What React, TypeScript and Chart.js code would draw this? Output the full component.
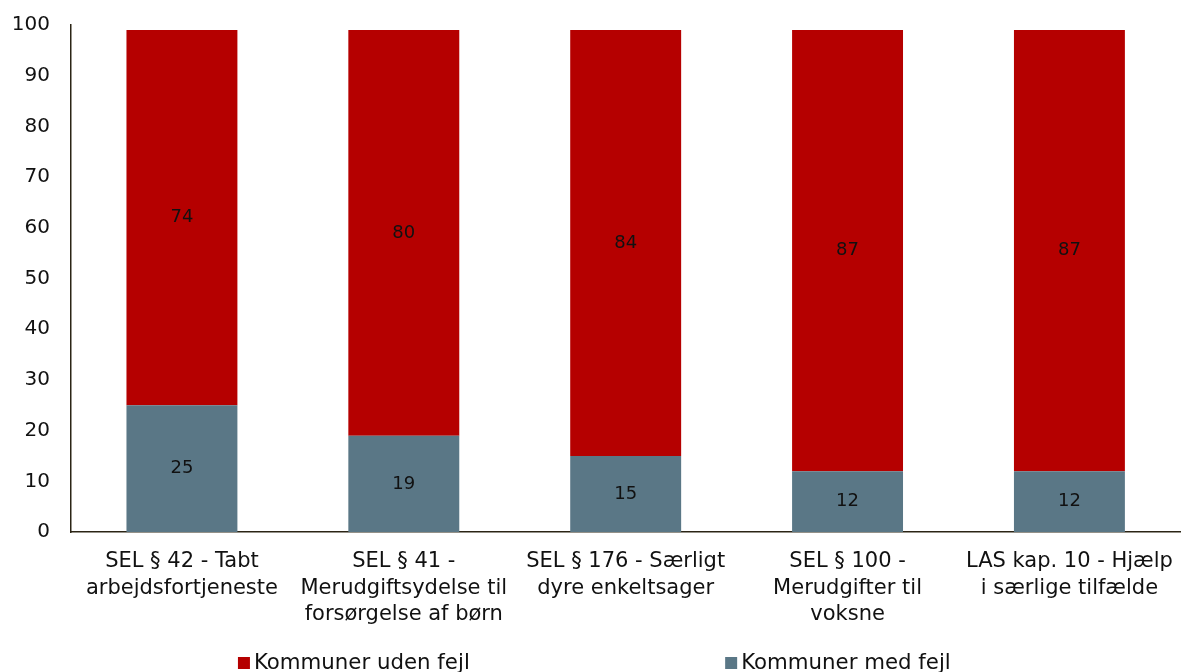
import React, { useEffect, useRef } from "react";
import { Chart, registerables } from "chart.js";

Chart.register(...registerables);

const categories: string[][] = [
  ["SEL § 42 - Tabt", "arbejdsfortjeneste"],
  ["SEL § 41 -", "Merudgiftsydelse til", "forsørgelse af børn"],
  ["SEL § 176 - Særligt", "dyre enkeltsager"],
  ["SEL § 100 -", "Merudgifter til", "voksne"],
  ["LAS kap. 10 - Hjælp", "i særlige tilfælde"],
];
const medFejl = [25, 19, 15, 12, 12];
const udenFejl = [74, 80, 84, 87, 87];
const seriesNames = ["Kommuner med fejl", "Kommuner uden fejl"];
const colors = ["#5A7786", "#B50000"];

const FONT = "'DejaVu Sans', Verdana, sans-serif";

const valueLabels = {
  id: "valueLabels",
  afterDatasetsDraw(chart: any) {
    const ctx = chart.ctx;
    ctx.save();
    ctx.font = `18px ${FONT}`;
    ctx.fillStyle = "#111";
    ctx.textAlign = "center";
    ctx.textBaseline = "middle";
    chart.data.datasets.forEach((ds: any, i: number) => {
      const meta = chart.getDatasetMeta(i);
      meta.data.forEach((el: any, j: number) => {
        const { x, y, base } = el.getProps(["x", "y", "base"], true);
        ctx.fillText(String(ds.data[j]), x, (y + base) / 2);
      });
    });
    ctx.restore();
  },
};

const customLegend = {
  id: "customLegend",
  afterDraw(chart: any) {
    const ctx = chart.ctx;
    const w = chart.width;
    const yc = 663;
    const order = [1, 0];
    const xs = [w * 0.2013, w * 0.6135];
    ctx.save();
    ctx.font = `21.3px ${FONT}`;
    ctx.textBaseline = "middle";
    ctx.textAlign = "left";
    order.forEach((di, k) => {
      const ds = chart.data.datasets[di];
      ctx.fillStyle = ds.backgroundColor;
      ctx.fillRect(xs[k], yc - 6, 12, 12);
      ctx.fillStyle = "#111";
      ctx.fillText(ds.label, xs[k] + 16, yc);
    });
    ctx.restore();
  },
};

export default function App() {
  const ref = useRef<HTMLCanvasElement>(null);
  useEffect(() => {
    if (!ref.current) return;
    const chart = new Chart(ref.current, {
      type: "bar",
      data: {
        labels: categories,
        datasets: [
          { label: seriesNames[0], data: medFejl, backgroundColor: colors[0], categoryPercentage: 0.5, barPercentage: 1 },
          { label: seriesNames[1], data: udenFejl, backgroundColor: colors[1], categoryPercentage: 0.5, barPercentage: 1 },
        ],
      },
      options: {
        responsive: false,
        animation: false,
        layout: { padding: { top: -2, right: 1, bottom: 30, left: 0 } },
        plugins: { legend: { display: false }, tooltip: { enabled: false } },
        scales: {
          x: {
            stacked: true,
            grid: { display: false },
            border: { display: true, color: "#2B2415", width: 1.5 },
            ticks: { color: "#111", font: { family: FONT, size: 21, lineHeight: 1.24 }, maxRotation: 0, autoSkip: false, padding: 9 },
            afterFit: (s: any) => { s.height = 110; },
          },
          y: {
            stacked: true,
            min: 0,
            max: 100,
            grid: { display: false },
            border: { display: true, color: "#2B2415", width: 1.5 },
            ticks: { stepSize: 10, color: "#111", font: { family: FONT, size: 20 }, padding: 13 },
            afterFit: (s: any) => { s.width = 71; },
          },
        },
      },
      plugins: [valueLabels, customLegend],
    });
    return () => chart.destroy();
  }, []);
  return (
    <div style={{ position: "fixed", left: 0, top: 0, width: 1182, height: 672, background: "#fff" }}>
      <canvas ref={ref} width={1182} height={672} />
    </div>
  );
}
